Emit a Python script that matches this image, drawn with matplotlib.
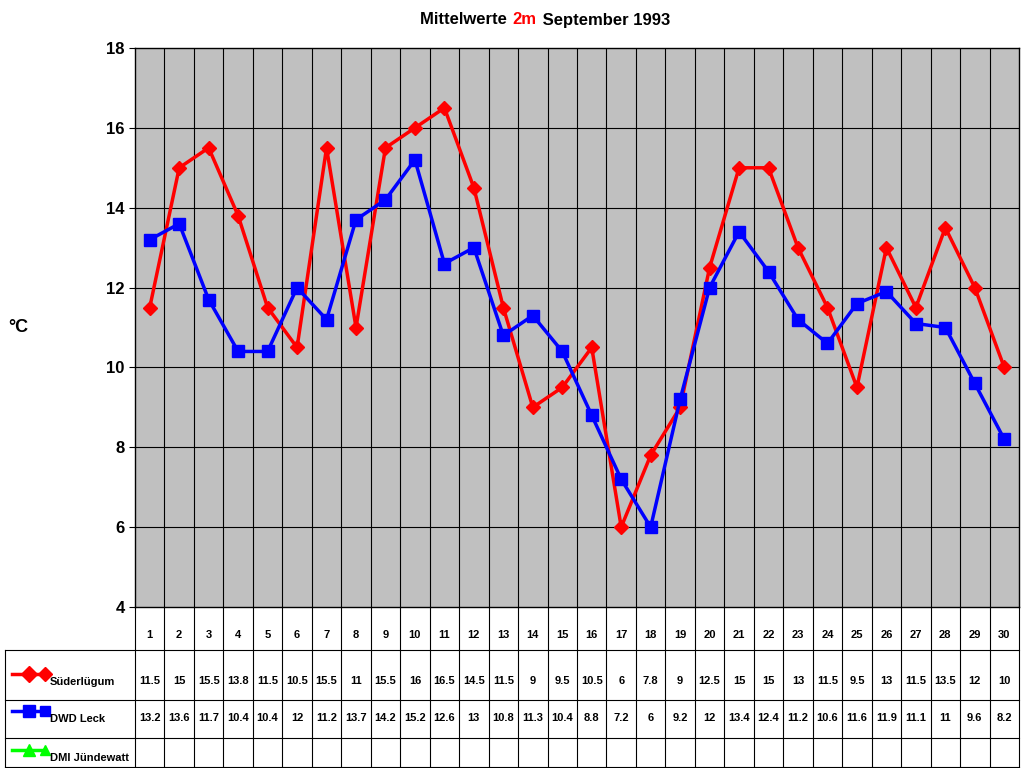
import numpy as np
import matplotlib.pyplot as plt
from matplotlib.transforms import blended_transform_factory
from matplotlib.lines import Line2D

days = list(range(1, 31))
suederluegum = [11.5, 15, 15.5, 13.8, 11.5, 10.5, 15.5, 11, 15.5, 16, 16.5, 14.5, 11.5, 9, 9.5,
                10.5, 6, 7.8, 9, 12.5, 15, 15, 13, 11.5, 9.5, 13, 11.5, 13.5, 12, 10]
dwd_leck = [13.2, 13.6, 11.7, 10.4, 10.4, 12, 11.2, 13.7, 14.2, 15.2, 12.6, 13, 10.8, 11.3, 10.4,
            8.8, 7.2, 6, 9.2, 12, 13.4, 12.4, 11.2, 10.6, 11.6, 11.9, 11.1, 11, 9.6, 8.2]
series_names = ["Süderlügum", "DWD Leck", "DMI Jündewatt"]
series_colors = ["#ff0000", "#0000ff", "#00ff00"]
series_markers = ["D", "s", "^"]
series_values = [suederluegum, dwd_leck, []]
yticks = [4, 6, 8, 10, 12, 14, 16, 18]

W, H = 1024, 768
fig = plt.figure(figsize=(W / 100, H / 100), dpi=100)
plt.rcParams["font.family"] = "Liberation Sans"

L, R, T, B = 135, 1019, 48, 607
ax = fig.add_axes([L / W, 1 - B / H, (R - L) / W, (B - T) / H])
ax.set_facecolor("#c0c0c0")
ax.set_xlim(0.5, 30.5)
ax.set_ylim(4, 18)
ax.set_yticks(yticks)
ax.set_yticklabels([str(v) for v in yticks], fontsize=12, fontweight="bold")
ax.set_xticks([])
ax.tick_params(axis="y", length=4)
for v in yticks[1:-1]:
    ax.axhline(v, color="black", lw=0.8)
for d in range(1, 30):
    ax.axvline(d + 0.5, color="black", lw=0.8)
for s in ax.spines.values():
    s.set_linewidth(1)

for vals, c, m in zip(series_values[:2], series_colors, series_markers):
    ax.plot(days, vals, color=c, lw=2.5, marker=m, markersize=7 if m == "D" else 8)

fig.text(0.5, 1 - 20 / H, "Mittelwerte ", ha="right", va="center", fontsize=12, fontweight="bold")
fig.text(0.5, 1 - 20 / H, "2m", ha="left", va="center", fontsize=12, fontweight="bold", color="red")
fig.text(0.5 + 26 / W, 1 - 20 / H, " September 1993", ha="left", va="center", fontsize=12, fontweight="bold")
fig.text(18 / W, 1 - 327 / H, "°C", ha="center", va="center", fontsize=13, fontweight="bold")

# data table
tr = blended_transform_factory(ax.transData, fig.transFigure)
fy = lambda p: 1 - p / H
fx = lambda p: p / W
row_edges = [650, 700, 738, 767]
row_text_y = [681, 718, 757]
for d in days:
    ax.text(d, fy(635), str(d), transform=tr, ha="center", va="center", fontsize=8, fontweight="bold")
    for vals, y in zip(series_values, row_text_y):
        if vals:
            ax.text(d, fy(y), f"{vals[d - 1]:g}", transform=tr, ha="center", va="center",
                    fontsize=8, fontweight="bold")
for d in range(0, 31):
    fig.add_artist(Line2D([d + 0.5, d + 0.5], [fy(B), fy(767)], transform=tr, color="black", lw=0.8))
for p in row_edges:
    fig.add_artist(Line2D([fx(5), fx(R)], [fy(p), fy(p)], color="black", lw=0.8))
fig.add_artist(Line2D([fx(5), fx(5)], [fy(650), fy(767)], color="black", lw=0.8))
for name, c, m, y in zip(series_names, series_colors, series_markers, row_text_y):
    fig.add_artist(Line2D([fx(12), fx(45)], [fy(y - 7), fy(y - 7)], color=c, lw=2.5,
                          marker=m, markevery=[1], markersize=7))
    fig.add_artist(Line2D([fx(28.5)], [fy(y - 7)], color=c, marker=m, markersize=8, lw=0))
    fig.text(fx(50), fy(y + 1), name, ha="left", va="center", fontsize=8, fontweight="bold")

fig.savefig("out.png", dpi=100)
